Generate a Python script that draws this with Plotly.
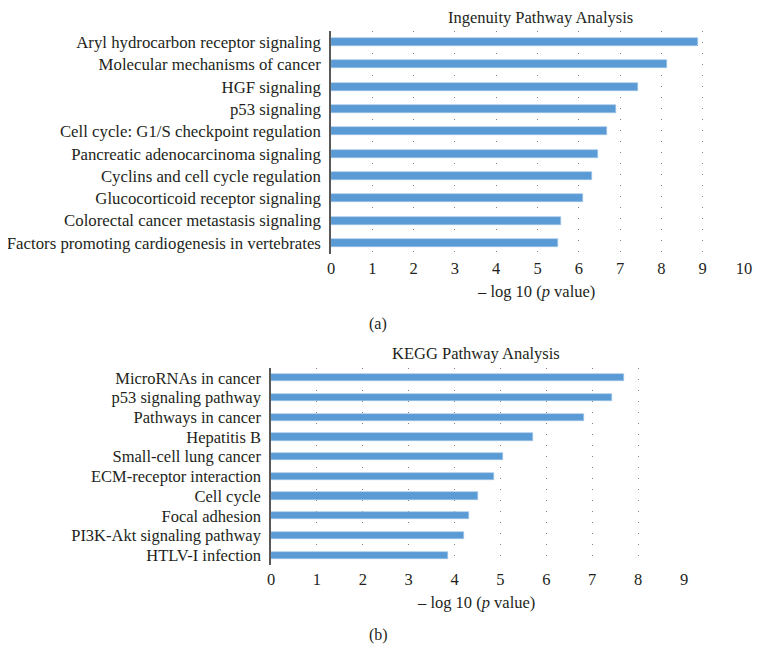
import plotly.graph_objects as go

ipa_labels = [
    "Aryl hydrocarbon receptor signaling",
    "Molecular mechanisms of cancer",
    "HGF signaling",
    "p53 signaling",
    "Cell cycle: G1/S checkpoint regulation",
    "Pancreatic adenocarcinoma signaling",
    "Cyclins and cell cycle regulation",
    "Glucocorticoid receptor signaling",
    "Colorectal cancer metastasis signaling",
    "Factors promoting cardiogenesis in vertebrates",
]
ipa_values = [8.89, 8.13, 7.43, 6.90, 6.69, 6.47, 6.33, 6.10, 5.56, 5.50]

kegg_labels = [
    "MicroRNAs in cancer",
    "p53 signaling pathway",
    "Pathways in cancer",
    "Hepatitis B",
    "Small-cell lung cancer",
    "ECM-receptor interaction",
    "Cell cycle",
    "Focal adhesion",
    "PI3K-Akt signaling pathway",
    "HTLV-I infection",
]
kegg_values = [7.70, 7.44, 6.82, 5.71, 5.05, 4.85, 4.52, 4.32, 4.21, 3.85]

ipa_ticks = list(range(0, 11))
kegg_ticks = list(range(0, 10))

W, H = 761, 667
OFFX, OFFY = 8, 7  # page body margin offset
FONT = "Liberation Serif, Times New Roman, serif"
BAR = "#5B9BD5"
TXT = "#231f20"

def fx(px):
    return (px - OFFX) / W

def fy(py):
    return 1 - (py - OFFY) / H

fig = go.Figure()
fig.add_trace(go.Bar(x=ipa_values, y=ipa_labels, orientation="h",
                     marker=dict(color=BAR, line=dict(color="#9DC3E6", width=0.6)),
                     width=0.36, xaxis="x", yaxis="y", showlegend=False))
fig.add_trace(go.Bar(x=kegg_values, y=kegg_labels, orientation="h",
                     marker=dict(color=BAR, line=dict(color="#9DC3E6", width=0.6)),
                     width=0.37, xaxis="x2", yaxis="y2", showlegend=False))

xcommon = dict(showgrid=True, gridcolor="#7f7f7f", griddash="1px,10px", gridwidth=1,
               zeroline=False, showline=False, ticks="", ticklabelstandoff=2,
               automargin=False, tickmode="array",
               tickfont=dict(family=FONT, size=16.5, color=TXT))
ycommon = dict(showgrid=False, zeroline=False, showline=True, linecolor="#595959",
               linewidth=1.5, ticks="", ticklabelstandoff=5, type="category",
               automargin=False, tickmode="array")

fig.update_layout(
    width=W, height=H,
    margin=dict(l=0, r=0, t=0, b=0),
    paper_bgcolor="white", plot_bgcolor="white",
    xaxis=dict(domain=[fx(331), fx(744)], range=[0, 10], tickvals=ipa_ticks,
               anchor="y", **xcommon),
    yaxis=dict(domain=[fy(253), fy(30)], range=[9.5, -0.5], anchor="x",
               tickvals=ipa_labels, tickfont=dict(family=FONT, size=16.8, color=TXT),
               **ycommon),
    xaxis2=dict(domain=[fx(271), fx(684)], range=[0, 9], tickvals=kegg_ticks,
                anchor="y2", **xcommon),
    yaxis2=dict(domain=[fy(564), fy(367)], range=[9.5, -0.5], anchor="x2",
                tickvals=kegg_labels, tickfont=dict(family=FONT, size=16.5, color=TXT),
                **ycommon),
    bargap=0,
)

def ann(text, px, py, size=16):
    fig.add_annotation(text=text, x=fx(px), y=fy(py), xref="paper", yref="paper",
                       showarrow=False, xanchor="center", yanchor="middle",
                       font=dict(family=FONT, size=size, color=TXT))

ann("Ingenuity Pathway Analysis", 540, 17, 16.5)
ann("– log 10 (<i>p</i> value)", 536, 290, 16.5)
ann("(a)", 378, 323, 16)
ann("KEGG Pathway Analysis", 476, 352, 16.5)
ann("– log 10 (<i>p</i> value)", 476, 601, 16.5)
ann("(b)", 378, 634, 16)

fig.write_html("out.html")
